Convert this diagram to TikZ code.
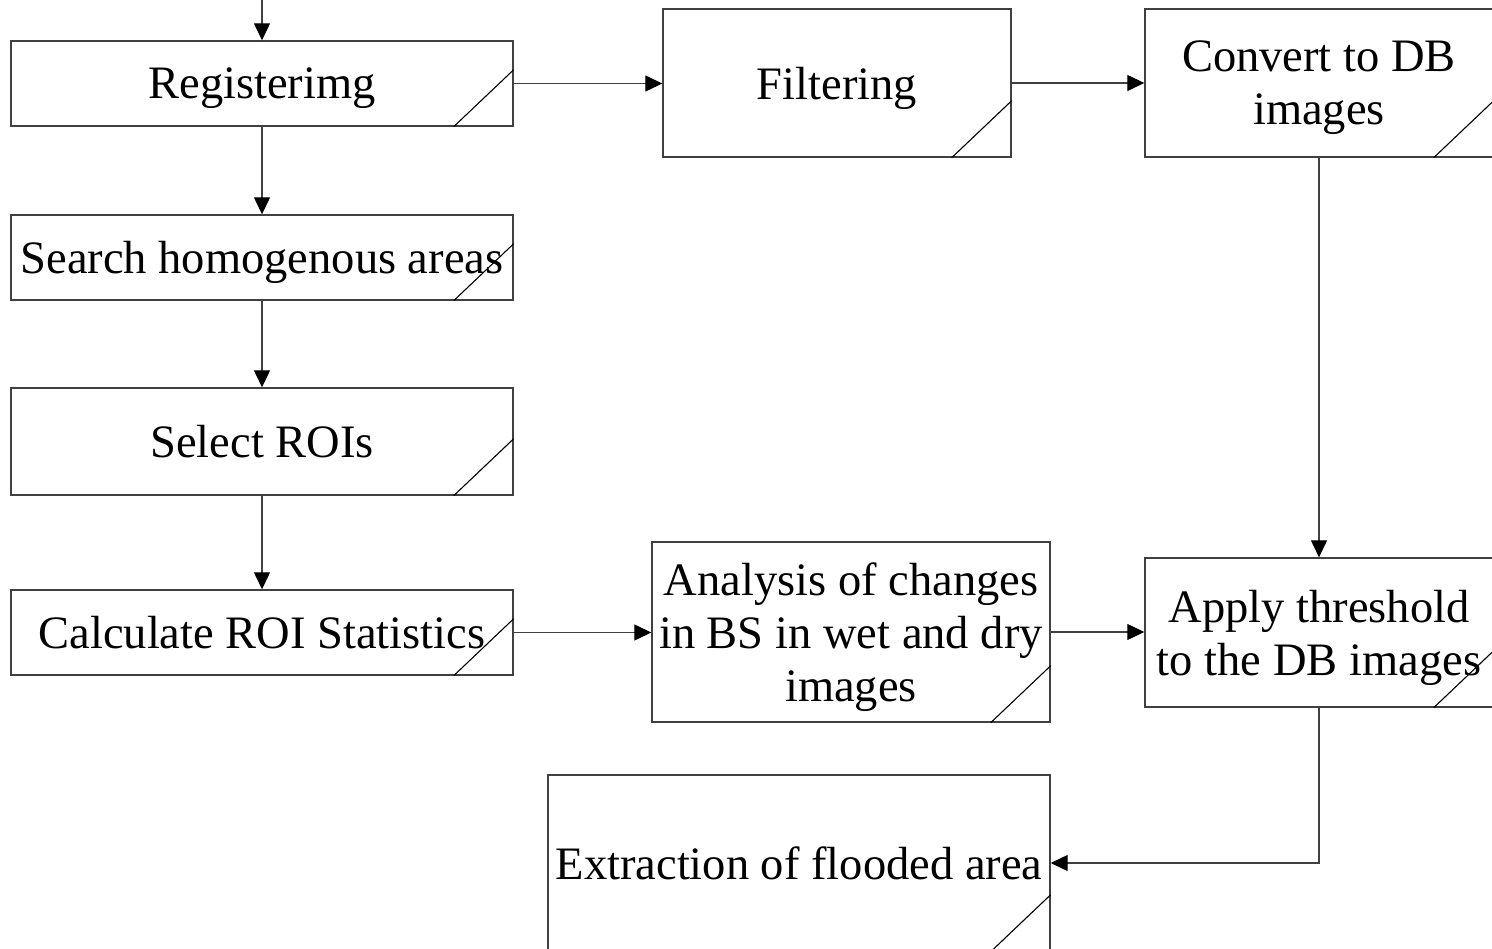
\documentclass[tikz,border=0pt]{standalone}
\usepackage{fontspec}
\setmainfont{Liberation Serif}
\usetikzlibrary{arrows.meta}
\newcommand\nodepth[1]{\raisebox{0pt}[\height][0pt]{#1}}
\begin{document}
\begin{tikzpicture}[x=1pt,y=-1pt,
  box/.style={draw=black!75, line width=1.4pt, rectangle, inner sep=0pt, align=center,
    font=\fontsize{46.5}{53}\selectfont},
  corner/.style={line width=1.1pt, black},
  conn/.style={draw=black!75, line width=1.3pt, -{Triangle[length=17pt,width=16pt,color=black]}}]
\clip (0,0) rectangle (1492,949);
\fill[white] (0,0) rectangle (1492,949);
% boxes
\node[box, minimum width=502pt, minimum height=85pt] (reg) at (262,83.5) {\nodepth{Registerimg}};
\node[box, minimum width=348pt, minimum height=148pt] (filt) at (837,83) {\nodepth{Filtering}};
\node[box, minimum width=348pt, minimum height=148pt] (conv) at (1319,83) {Convert to DB\\\nodepth{images}};
\node[box, minimum width=502pt, minimum height=85pt] (srch) at (262,257.5) {\nodepth{Search homogenous areas}};
\node[box, minimum width=502pt, minimum height=107pt] (sel) at (262,441.5) {Select ROIs};
\node[box, minimum width=502pt, minimum height=85pt] (calc) at (262,632.5) {Calculate ROI Statistics};
\node[box, minimum width=398pt, minimum height=180pt] (anal) at (851,632) {Analysis of changes\\in BS in wet and dry\\\nodepth{images}};
\node[box, minimum width=348pt, minimum height=149pt] (appl) at (1319,632.5) {Apply threshold\\\nodepth{to the DB images}};
\node[box, minimum width=502pt, minimum height=176pt] (extr) at (799,863) {Extraction of flooded area};
% corner marks
\foreach \n in {reg,filt,conv,srch,sel,calc,anal,appl,extr}
  \draw[corner] ([xshift=-60pt]\n.south east) -- ([yshift=57pt]\n.south east);
% connectors
\coordinate (start) at (262,0);
\coordinate (bend) at (1319,863);
\draw[conn] (start) -- (reg.north);
\draw[conn] (reg.south) -- (srch.north);
\draw[conn] (srch.south) -- (sel.north);
\draw[conn] (sel.south) -- (calc.north);
\draw[conn] (reg.east) -- (reg.east -| filt.west);
\draw[conn] (filt.east) -- (filt.east -| conv.west);
\draw[conn] (conv.south) -- (appl.north);
\draw[conn] (calc.east) -- (calc.east -| anal.west);
\draw[conn] (anal.east) -- (anal.east -| appl.west);
\draw[conn] (appl.south) -- (bend) -- (bend -| extr.east);
\end{tikzpicture}
\end{document}
